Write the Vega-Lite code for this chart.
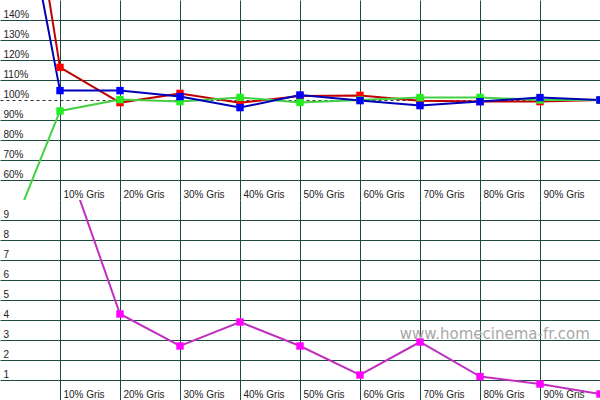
{
  "$schema": "https://vega.github.io/schema/vega-lite/v6.json",
  "padding": 0,
  "background": "white",
  "datasets": {
    "d": [
      {"series": "R", "pct": 0, "value": 304},
      {"series": "R", "pct": 10, "value": 116.3},
      {"series": "R", "pct": 20, "value": 98.7},
      {"series": "R", "pct": 30, "value": 103.3},
      {"series": "R", "pct": 40, "value": 98.6},
      {"series": "R", "pct": 50, "value": 102},
      {"series": "R", "pct": 60, "value": 102.3},
      {"series": "R", "pct": 70, "value": 99.6},
      {"series": "R", "pct": 80, "value": 99.2},
      {"series": "R", "pct": 90, "value": 99.2},
      {"series": "R", "pct": 100, "value": 100},
      {"series": "G", "pct": 0, "value": 20},
      {"series": "G", "pct": 10, "value": 94.5},
      {"series": "G", "pct": 20, "value": 100.2},
      {"series": "G", "pct": 30, "value": 99.2},
      {"series": "G", "pct": 40, "value": 101.3},
      {"series": "G", "pct": 50, "value": 98.8},
      {"series": "G", "pct": 60, "value": 100},
      {"series": "G", "pct": 70, "value": 101.2},
      {"series": "G", "pct": 80, "value": 101.3},
      {"series": "G", "pct": 90, "value": 100},
      {"series": "G", "pct": 100, "value": 100},
      {"series": "B", "pct": 0, "value": 262},
      {"series": "B", "pct": 10, "value": 104.7},
      {"series": "B", "pct": 20, "value": 104.7},
      {"series": "B", "pct": 30, "value": 101.7},
      {"series": "B", "pct": 40, "value": 96.2},
      {"series": "B", "pct": 50, "value": 102.5},
      {"series": "B", "pct": 60, "value": 99.7},
      {"series": "B", "pct": 70, "value": 97.2},
      {"series": "B", "pct": 80, "value": 99.2},
      {"series": "B", "pct": 90, "value": 101.2},
      {"series": "B", "pct": 100, "value": 100},
      {"series": "M", "pct": 10, "value": 12.85},
      {"series": "M", "pct": 20, "value": 4.3},
      {"series": "M", "pct": 30, "value": 2.7},
      {"series": "M", "pct": 40, "value": 3.9},
      {"series": "M", "pct": 50, "value": 2.7},
      {"series": "M", "pct": 60, "value": 1.25},
      {"series": "M", "pct": 70, "value": 2.9},
      {"series": "M", "pct": 80, "value": 1.17},
      {"series": "M", "pct": 90, "value": 0.8},
      {"series": "M", "pct": 100, "value": 0.3}
    ]
  },
  "vconcat": [
    {
      "width": 600,
      "height": 200,
      "data": {"name": "d"},
      "transform": [{"filter": "datum.series !== 'M'"}],
      "encoding": {
        "x": {"field": "pct", "type": "quantitative", "scale": {"domain": [0, 100], "nice": false, "zero": false},
          "axis": {"orient": "bottom", "values": [10, 20, 30, 40, 50, 60, 70, 80, 90], "grid": true, "labelExpr": "datum.value + '% Gris'", "labelAlign": "left", "labelBaseline": "alphabetic", "labelPadding": -3, "labelOffset": 3}},
        "y": {"field": "value", "type": "quantitative", "scale": {"domain": [50, 150], "nice": false, "zero": false},
          "axis": {"orient": "left", "values": [60, 70, 80, 90, 100, 110, 120, 130, 140], "grid": true, "labelExpr": "datum.value + '%'", "labelAlign": "left", "labelBaseline": "alphabetic", "labelPadding": -3, "labelOffset": -3,
            "gridColor": {"condition": {"test": "datum.value === 100", "value": "#333333"}, "value": "#1e4a44"},
            "gridDash": {"condition": {"test": "datum.value === 100", "value": [3, 3]}, "value": []}}}
      },
      "layer": [
        {"transform": [{"filter": "datum.series === 'R'"}], "mark": {"type": "line", "clip": true, "strokeWidth": 2, "color": "#c00000"}},
        {"transform": [{"filter": "datum.series === 'G'"}], "mark": {"type": "line", "clip": true, "strokeWidth": 2, "color": "#44d044"}},
        {"transform": [{"filter": "datum.series === 'B'"}], "mark": {"type": "line", "clip": true, "strokeWidth": 2, "color": "#0000b8"}},
        {"transform": [{"filter": "datum.series === 'R' && datum.pct >= 10"}], "mark": {"type": "point", "shape": "square", "filled": true, "size": 55, "opacity": 1, "clip": true, "color": "#ff0000"}},
        {"transform": [{"filter": "datum.series === 'G' && datum.pct >= 10"}], "mark": {"type": "point", "shape": "square", "filled": true, "size": 55, "opacity": 1, "clip": true, "color": "#22ee22"}},
        {"transform": [{"filter": "datum.series === 'B' && datum.pct >= 10"}], "mark": {"type": "point", "shape": "square", "filled": true, "size": 55, "opacity": 1, "clip": true, "color": "#0000ff"}}
      ]
    },
    {
      "width": 600,
      "height": 200,
      "encoding": {
        "x": {"field": "pct", "type": "quantitative", "scale": {"domain": [0, 100], "nice": false, "zero": false},
          "axis": {"orient": "bottom", "values": [10, 20, 30, 40, 50, 60, 70, 80, 90], "grid": true, "labelExpr": "datum.value + '% Gris'", "labelAlign": "left", "labelBaseline": "alphabetic", "labelPadding": -3, "labelOffset": 3}},
        "y": {"field": "value", "type": "quantitative", "scale": {"domain": [0, 10], "nice": false, "zero": false},
          "axis": {"orient": "left", "values": [1, 2, 3, 4, 5, 6, 7, 8, 9], "grid": true, "labelAlign": "left", "labelBaseline": "alphabetic", "labelPadding": -3, "labelOffset": -3}}
      },
      "layer": [
        {
          "data": {"name": "d"},
          "transform": [{"filter": "datum.series === 'M'"}],
          "mark": {"type": "line", "clip": true, "strokeWidth": 2, "color": "#c030c0"}
        },
        {
          "data": {"name": "d"},
          "transform": [{"filter": "datum.series === 'M'"}],
          "mark": {"type": "point", "shape": "square", "filled": true, "size": 55, "opacity": 1, "clip": true, "color": "#ff00ff"}
        },
        {
          "data": {"values": [{"label": "www.homecinema-fr.com", "pct": 98.3, "value": 3.05}]},
          "mark": {"type": "text", "align": "right", "baseline": "alphabetic", "font": "DejaVu Sans", "fontSize": 15, "color": "#a8a8a8"},
          "encoding": {
            "text": {"field": "label"}
          }
        }
      ]
    }
  ],
  "spacing": 0,
  "config": {
    "view": {"stroke": null},
    "concat": {"spacing": 0},
    "axis": {"domain": false, "ticks": false, "tickSize": 0, "title": null, "labelFont": "Liberation Sans", "labelFontSize": 10, "labelColor": "#222222", "gridColor": "#1e4a44", "gridOpacity": 1, "gridWidth": 1, "labelOverlap": false, "labelFlush": false, "labelBound": false}
  }
}
